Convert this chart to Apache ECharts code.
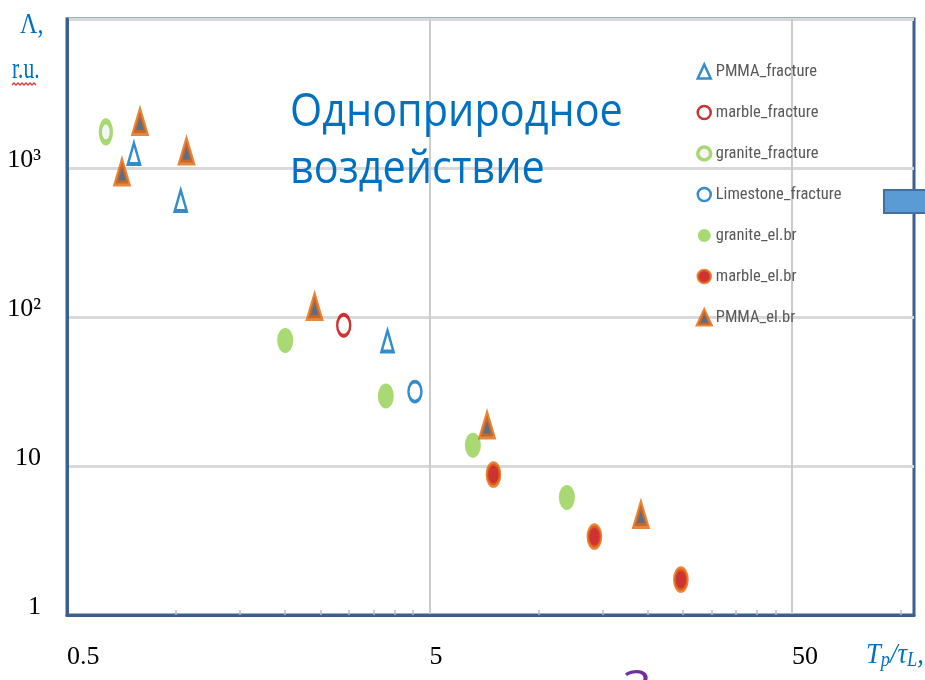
<!DOCTYPE html>
<html>
<head>
<meta charset="utf-8">
<script src="https://cdn.jsdelivr.net/npm/echarts@6/dist/echarts.min.js"></script>
<style>
  html, body { margin: 0; padding: 0; background: #ffffff; }
  #chart { width: 925px; height: 680px; }
</style>
</head>
<body>
<div id="chart"></div>
<script>
// Λ (r.u.) against the ratio Tp/τL on log–log axes, fracture vs electrical breakdown

const seriesNames = [
  'PMMA_fracture', 'marble_fracture', 'granite_fracture', 'Limestone_fracture',
  'granite_el.br', 'marble_el.br', 'PMMA_el.br'
];

// measured points, one x list and one y list per series
const pmmaFractureX = [0.765, 1.03, 3.83];
const pmmaFractureY = [1250, 605, 69];

const marbleFractureX = [2.9];
const marbleFractureY = [88];

const graniteFractureX = [0.64];
const graniteFractureY = [1745];

const limestoneFractureX = [4.56];
const limestoneFractureY = [31.6];

const graniteElbrX = [2.0, 3.79, 6.59, 11.97];
const graniteElbrY = [69.6, 29.5, 13.8, 6.15];

const marbleElbrX = [7.51, 14.26, 24.7];
const marbleElbrY = [8.77, 3.36, 1.73];

const pmmaElbrX = [0.709, 0.795, 1.068, 2.41, 7.21, 19.16];
const pmmaElbrY = [933, 2035, 1290, 116.7, 18.7, 4.69];

// axis ticks and labels
const xLabelValues = [0.5, 5, 50];
const xMinorTickValues = [1, 1.5, 2, 2.5, 3, 3.5, 4, 4.5, 10, 15, 20, 25, 30, 35, 40, 45, 100];
const yLabelValues = [1, 10, 100, 1000];
const yLabelTexts = ['1', '10', '10²', '10³'];

const frameColor = '#3b5f8f';
const serif = '"Liberation Serif", "DejaVu Serif", serif';
const legendFont = '"Liberation Sans Narrow", "Roboto Condensed", "Liberation Sans", sans-serif';

function pairs(xs, ys) {
  return xs.map(function (x, i) { return [x, ys[i]]; });
}

// marker look of each series (also reused for its legend icon)
const markerStyles = {
  'PMMA_fracture':      { symbol: 'triangle', size: [12, 21], item: { color: '#ffffff', borderColor: '#0070c0', borderWidth: 3 } },
  'marble_fracture':    { symbol: 'circle',   size: [13, 21], item: { color: '#ffffff', borderColor: '#c00000', borderWidth: 3 } },
  'granite_fracture':   { symbol: 'circle',   size: [11, 21], item: { color: '#f2f2f2', borderColor: '#92d050', borderWidth: 4.5 } },
  'Limestone_fracture': { symbol: 'circle',   size: [13, 20], item: { color: '#ffffff', borderColor: '#0070c0', borderWidth: 3 } },
  'granite_el.br':      { symbol: 'circle',   size: [16, 25], item: { color: '#92d050', borderWidth: 0 } },
  'marble_el.br':       { symbol: 'circle',   size: [13, 22], item: { color: '#c00000', borderColor: '#e4680c', borderWidth: 3.5 } },
  'PMMA_el.br':         { symbol: 'triangle', size: [13, 22], item: { color: '#2e4a6e', borderColor: '#e4680c', borderWidth: 4.5 } }
};

const seriesData = {
  'PMMA_fracture': pairs(pmmaFractureX, pmmaFractureY),
  'marble_fracture': pairs(marbleFractureX, marbleFractureY),
  'granite_fracture': pairs(graniteFractureX, graniteFractureY),
  'Limestone_fracture': pairs(limestoneFractureX, limestoneFractureY),
  'granite_el.br': pairs(graniteElbrX, graniteElbrY),
  'marble_el.br': pairs(marbleElbrX, marbleElbrY),
  'PMMA_el.br': pairs(pmmaElbrX, pmmaElbrY)
};

const series = seriesNames.map(function (name) {
  const m = markerStyles[name];
  return {
    name: name,
    type: 'scatter',
    xAxisIndex: 0,
    yAxisIndex: 0,
    symbol: m.symbol,
    symbolSize: m.size,
    itemStyle: m.item,
    emphasis: { disabled: true },
    z: 3,
    data: seriesData[name]
  };
});

const legendData = seriesNames.map(function (name) {
  const m = markerStyles[name];
  const it = Object.assign({}, m.item);
  if (it.borderWidth) it.borderWidth = Math.max(2.5, it.borderWidth - 1);
  return { name: name, icon: m.symbol, itemStyle: it };
});

function yLabel(v) {
  for (let i = 0; i < yLabelValues.length; i++) {
    if (Math.abs(Math.log10(v) - Math.log10(yLabelValues[i])) < 1e-6) return yLabelTexts[i];
  }
  return '';
}

const chart = echarts.init(document.getElementById('chart'), null, { renderer: 'canvas' });

chart.setOption({
  animation: false,
  backgroundColor: '#ffffff',
  grid: {
    left: 67, top: 19, right: 11, bottom: 65,
    show: true,
    borderColor: frameColor,
    borderWidth: 3,
    containLabel: false,
    outerBoundsMode: 'none'
  },
  legend: {
    orient: 'vertical',
    left: 691,
    top: 58,
    itemWidth: 13,
    itemHeight: 14,
    itemGap: 24,
    selectedMode: false,
    textStyle: { fontFamily: legendFont, fontSize: 16.5, color: '#595959' },
    data: legendData
  },
  xAxis: [
    {
      type: 'log',
      logBase: 10,
      min: 0.5,
      max: 108.6,
      axisLine: { show: true, lineStyle: { color: frameColor, width: 3 } },
      axisTick: { show: false, customValues: xLabelValues },
      minorTick: { show: false },
      axisLabel: {
        customValues: xLabelValues,
        formatter: function (v) { return String(+v.toPrecision(3)); },
        align: 'left',
        margin: 29,
        fontFamily: serif,
        fontSize: 26,
        color: '#000000'
      },
      splitLine: { show: true, lineStyle: { color: '#cccccc', width: 2 } }
    },
    {
      type: 'log',
      logBase: 10,
      min: 0.5,
      max: 108.6,
      position: 'bottom',
      axisLine: { show: false },
      axisTick: { show: true, inside: true, length: 5, customValues: xMinorTickValues, lineStyle: { color: '#bdbdbd', width: 1.5 } },
      axisLabel: { show: false },
      splitLine: { show: false }
    }
  ],
  yAxis: {
    type: 'log',
    logBase: 10,
    min: 1,
    max: 10000,
    axisLine: { show: true, lineStyle: { color: frameColor, width: 3 } },
    axisTick: { show: false },
    minorTick: { show: false },
    axisLabel: {
      customValues: yLabelValues,
      formatter: yLabel,
      margin: 26,
      fontFamily: serif,
      fontSize: 26,
      color: '#000000',
      verticalAlign: 'bottom',
      lineHeight: 16
    },
    splitLine: { show: true, lineStyle: { color: '#d9d9d9', width: 3 } }
  },
  graphic: [
    {
      type: 'text', x: 20, y: 10, scaleX: 0.8, z: 10,
      style: { text: 'Λ,', font: '30px ' + serif, fill: '#0070c0', verticalAlign: 'top' }
    },
    {
      type: 'text', x: 12, y: 55, scaleX: 0.72, z: 10,
      style: { text: 'r.u.', font: '30px ' + serif, fill: '#0070c0', verticalAlign: 'top' }
    },
    {
      type: 'polyline', z: 10,
      shape: { points: [[12, 85], [14, 83], [16, 85], [18, 83], [20, 85], [22, 83], [24, 85], [26, 83], [28, 85], [30, 83], [32, 85], [34, 83], [36, 85]] },
      style: { stroke: '#e03c3c', lineWidth: 1.3, fill: null }
    },
    {
      type: 'text', x: 290, y: 113, scaleX: 0.92, z: 10,
      style: { text: 'Одноприродное', font: '45px "Open Sans", "Noto Sans", sans-serif', fill: '#0070c0', verticalAlign: 'middle' }
    },
    {
      type: 'text', x: 290, y: 170, scaleX: 0.92, z: 10,
      style: { text: 'воздействие', font: '45px "Open Sans", "Noto Sans", sans-serif', fill: '#0070c0', verticalAlign: 'middle' }
    },
    {
      type: 'text', x: 866, y: 655, scaleX: 0.92, z: 10,
      style: {
        text: '{i|T}{s|p}{i|/τ}{s|L}{i|,}',
        verticalAlign: 'middle',
        rich: {
          i: { fontFamily: serif, fontStyle: 'italic', fontSize: 29, fill: '#0070c0', color: '#0070c0', lineHeight: 32 },
          s: { fontFamily: serif, fontStyle: 'italic', fontSize: 20, fill: '#0070c0', color: '#0070c0', lineHeight: 32, verticalAlign: 'bottom' }
        }
      }
    },
    {
      type: 'text', x: 623, y: 690, z: 10,
      style: { text: 'З', font: '48px "Open Sans", "Noto Sans", sans-serif', fill: '#7030a0', verticalAlign: 'middle' }
    },
    {
      type: 'rect', z: 20,
      shape: { x: 884, y: 190, width: 45, height: 23 },
      style: { fill: '#5b9bd5', stroke: '#41719c', lineWidth: 2 }
    }
  ],
  series: series
});
</script>
</body>
</html>
